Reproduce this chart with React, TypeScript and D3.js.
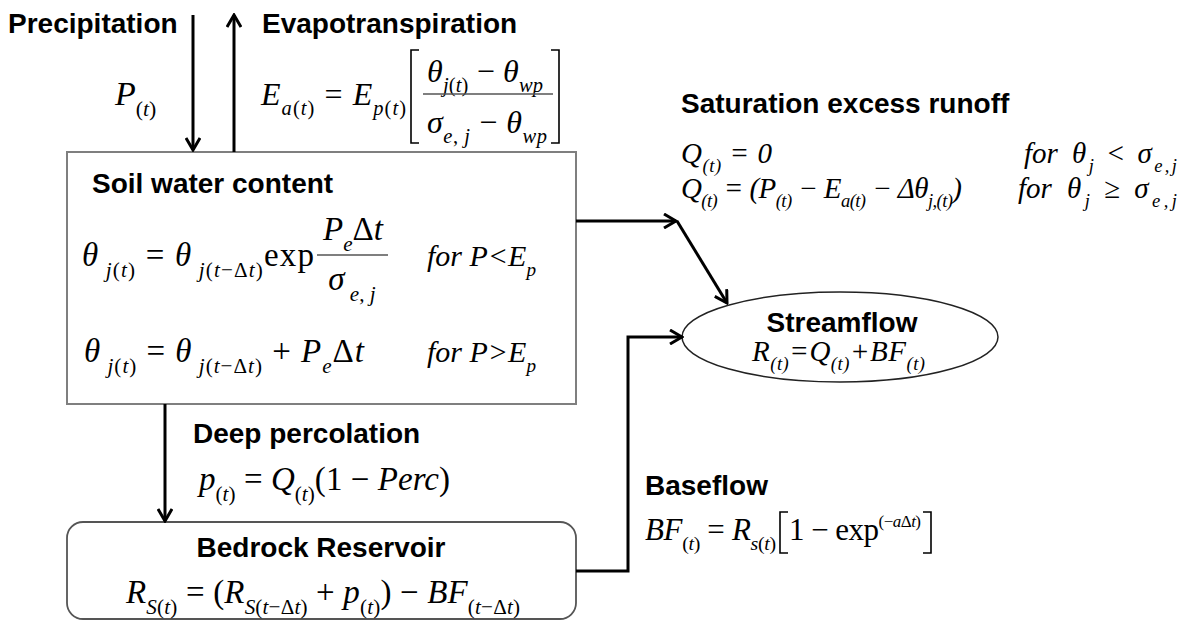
import * as d3 from "d3";

// soil water balance / streamflow diagram

const W = 1188;
const H = 621;

// node titles and flow labels
const nodeTitles = ["Soil water content", "Bedrock Reservoir", "Streamflow"];
const flowTitles = ["Precipitation", "Evapotranspiration", "Saturation excess runoff", "Deep percolation", "Baseflow"];

// formula tokens: [text, kind]  i = italic, r = roman, s = sub italic, sr = sub roman, u / ui = superscript
type Tok = [string, string];
const fPrecip: Tok[] = [["P", "i"], ["(", "sr"], ["t", "s"], [")", "sr"]];
const fEaLeft: Tok[] = [["E", "i"], ["a", "s"], ["(", "sr"], ["t", "s"], [")", "sr"], [" = ", "r"], ["E", "i"], ["p", "s"], ["(", "sr"], ["t", "s"], [")", "sr"]];
const fEaNum: Tok[] = [["θ", "i"], ["j", "s"], ["(", "sr"], ["t", "s"], [")", "sr"], [" − ", "r"], ["θ", "i"], ["wp", "s"]];
const fEaDen: Tok[] = [["σ", "i"], ["e", "s"], [", ", "sr"], ["j", "s"], [" − ", "r"], ["θ", "i"], ["wp", "s"]];
const fSoil1: Tok[] = [["θ", "i"], [" j", "s"], ["(", "sr"], ["t", "s"], [")", "sr"], [" = ", "r"], ["θ", "i"], [" j", "s"], ["(", "sr"], ["t", "s"], ["−Δ", "sr"], ["t", "s"], [")", "sr"], ["exp", "r"]];
const fSoil1Num: Tok[] = [["P", "i"], ["e", "s"], ["Δ", "r"], ["t", "i"]];
const fSoil1Den: Tok[] = [["σ", "i"], [" e", "s"], [", ", "sr"], ["j", "s"]];
const fSoil1Cond: Tok[] = [["for P<E", "i"], ["p", "s"]];
const fSoil2: Tok[] = [["θ", "i"], [" j", "s"], ["(", "sr"], ["t", "s"], [")", "sr"], [" = ", "r"], ["θ", "i"], [" j", "s"], ["(", "sr"], ["t", "s"], ["−Δ", "sr"], ["t", "s"], [")", "sr"], [" + ", "r"], ["P", "i"], ["e", "s"], ["Δ", "r"], ["t", "i"]];
const fSoil2Cond: Tok[] = [["for P>E", "i"], ["p", "s"]];
const fPerc: Tok[] = [["p", "i"], ["(", "sr"], ["t", "s"], [")", "sr"], [" = ", "r"], ["Q", "i"], ["(", "sr"], ["t", "s"], [")", "sr"], ["(1 − ", "r"], ["Perc", "i"], [")", "r"]];
const fBedrock: Tok[] = [["R", "i"], ["S", "s"], ["(", "sr"], ["t", "s"], [")", "sr"], [" = (", "r"], ["R", "i"], ["S", "s"], ["(", "sr"], ["t", "s"], ["−Δ", "sr"], ["t", "s"], [")", "sr"], [" + ", "r"], ["p", "i"], ["(", "sr"], ["t", "s"], [")", "sr"], [") − ", "r"], ["BF", "i"], ["(", "sr"], ["t", "s"], ["−Δ", "sr"], ["t", "s"], [")", "sr"]];
const fRunoff1: Tok[] = [["Q", "i"], ["(t)", "s"], [" = 0", "i"]];
const fRunoff2: Tok[] = [["Q", "i"], ["(t)", "s"], [" = (P", "i"], ["(t)", "s"], [" − E", "i"], ["a(t)", "s"], [" − Δθ", "i"], ["j,(t)", "s"], [")", "i"]];
const fFor: Tok[] = [["for", "i"]];
const fRunoff1Cond: Tok[] = [["θ", "i"], ["j", "s"], [" < σ", "i"], ["e,j", "s"]];
const fRunoff2Cond: Tok[] = [["θ", "i"], ["j", "s"], [" ≥ σ", "i"], ["e,j", "s"]];
const fStream: Tok[] = [["R", "i"], ["(t)", "s"], ["=Q", "i"], ["(t)", "s"], ["+BF", "i"], ["(t)", "s"]];
const fBaseLeft: Tok[] = [["BF", "i"], ["(", "sr"], ["t", "s"], [")", "sr"], [" = ", "r"], ["R", "i"], ["s", "s"], ["(", "sr"], ["t", "s"], [")", "sr"]];
const fBaseIn: Tok[] = [["1 − exp", "r"], ["(−", "u"], ["a", "ui"], ["Δ", "u"], ["t", "ui"], [")", "u"]];

// geometry of the diagram
const layout = {
  soil: { x: 67, y: 152, w: 509, h: 252 },
  bed: { x: 67, y: 522, w: 509, h: 97, r: 16 },
  stream: { cx: 840, cy: 337, rx: 158, ry: 45 },
};

const flows: [number, number][][] = [
  [[193, 15], [193, 150]],
  [[234, 152], [234, 15]],
  [[576, 221], [676, 221]],
  [[677, 221], [727, 303]],
  [[165, 404], [165, 521]],
  [[576, 571], [628, 571], [628, 337], [682, 337]],
];

const SANS = "'Liberation Sans', Arial, sans-serif";
const SERIF = "'Liberation Serif', 'Times New Roman', serif";

function Formula({ x, y, toks, size = 32, anchor = "start", len }: { x: number; y: number; toks: Tok[]; size?: number; anchor?: string; len?: number }) {
  let shift = 0;
  return (
    <text
      x={x}
      y={y}
      fontFamily={SERIF}
      fontSize={size}
      textAnchor={anchor}
      fill="#000"
      style={{ whiteSpace: "pre" }}
      textLength={len}
      lengthAdjust={len ? "spacing" : undefined}
    >
      {toks.map(([t, k], i) => {
        const sub = k === "s" || k === "sr";
        const sup = k === "u" || k === "ui";
        const target = sub ? size * 0.32 : sup ? -size * 0.42 : 0;
        const dy = target - shift;
        shift = target;
        const italic = k === "i" || k === "s" || k === "ui";
        return (
          <tspan key={i} dy={dy} fontSize={sub ? size * 0.64 : sup ? size * 0.55 : size} fontStyle={italic ? "italic" : "normal"}>
            {t}
          </tspan>
        );
      })}
    </text>
  );
}

function Label({ x, y, text, anchor = "start" }: { x: number; y: number; text: string; anchor?: string }) {
  return (
    <text x={x} y={y} fontFamily={SANS} fontWeight="bold" fontSize={28} textAnchor={anchor} fill="#000">
      {text}
    </text>
  );
}

function bracket(x: number, y0: number, y1: number, dir: number) {
  const p = d3.path();
  p.moveTo(x + dir * 8, y0);
  p.lineTo(x, y0);
  p.lineTo(x, y1);
  p.lineTo(x + dir * 8, y1);
  return p.toString();
}

export default function App() {
  const line = d3.line<[number, number]>().x((d) => d[0]).y((d) => d[1]);
  const { soil, bed, stream } = layout;
  return (
    <svg width={W} height={H} viewBox={`0 0 ${W} ${H}`} style={{ position: "absolute", left: 0, top: 0, background: "#fff" }}>
      <defs>
        <marker id="head" viewBox="0 0 16 16" markerWidth={16} markerHeight={16} refX={14} refY={8} orient="auto" markerUnits="userSpaceOnUse">
          <path d="M2,1 L14,8 L2,15" fill="none" stroke="#000" strokeWidth={3} strokeLinejoin="miter" />
        </marker>
      </defs>

      {/* nodes */}
      <rect x={soil.x} y={soil.y} width={soil.w} height={soil.h} fill="none" stroke="#7f7f7f" strokeWidth={2} />
      <rect x={bed.x} y={bed.y} width={bed.w} height={bed.h} rx={bed.r} fill="none" stroke="#555" strokeWidth={1.8} />
      <ellipse cx={stream.cx} cy={stream.cy} rx={stream.rx} ry={stream.ry} fill="none" stroke="#222" strokeWidth={1.5} />

      {/* flows */}
      {flows.map((pts, i) => (
        <path key={i} d={line(pts) as string} fill="none" stroke="#000" strokeWidth={3} markerEnd="url(#head)" />
      ))}

      {/* titles */}
      <Label x={8} y={33} text={flowTitles[0]} />
      <Label x={262} y={33} text={flowTitles[1]} />
      <Label x={681} y={113} text={flowTitles[2]} />
      <Label x={193} y={443} text={flowTitles[3]} />
      <Label x={645} y={495} text={flowTitles[4]} />
      <Label x={92} y={193} text={nodeTitles[0]} />
      <Label x={321} y={557} text={nodeTitles[1]} anchor="middle" />
      <Label x={842} y={332} text={nodeTitles[2]} anchor="middle" />

      {/* precipitation / evapotranspiration */}
      <Formula x={115} y={105} toks={fPrecip} size={34} />
      <Formula x={261} y={105} toks={fEaLeft} size={32} len={145} />
      <path d={bracket(411, 50, 143, 1)} fill="none" stroke="#000" strokeWidth={1.6} />
      <path d={bracket(559, 50, 143, -1)} fill="none" stroke="#000" strokeWidth={1.6} />
      <Formula x={427} y={82} toks={fEaNum} size={32} len={116} />
      <line x1={423} x2={553} y1={94} y2={94} stroke="#555" strokeWidth={1.6} />
      <Formula x={427} y={133} toks={fEaDen} size={32} len={120} />

      {/* soil water content */}
      <Formula x={82} y={266} toks={fSoil1} size={33} len={232} />
      <Formula x={353} y={240} toks={fSoil1Num} size={33} anchor="middle" />
      <line x1={317} x2={388} y1={255} y2={255} stroke="#555" strokeWidth={1.6} />
      <Formula x={352} y={290} toks={fSoil1Den} size={33} anchor="middle" />
      <Formula x={427} y={266} toks={fSoil1Cond} size={30} />
      <Formula x={84} y={362} toks={fSoil2} size={33} len={280} />
      <Formula x={427} y={362} toks={fSoil2Cond} size={30} />

      {/* percolation & bedrock */}
      <Formula x={199} y={490} toks={fPerc} size={33} len={251} />
      <Formula x={126} y={603} toks={fBedrock} size={33} len={394} />

      {/* runoff */}
      <Formula x={681} y={163} toks={fRunoff1} size={29} len={91} />
      <Formula x={1024} y={163} toks={fFor} size={29} />
      <Formula x={1072} y={163} toks={fRunoff1Cond} size={29} len={105} />
      <Formula x={681} y={198} toks={fRunoff2} size={29} len={281} />
      <Formula x={1018} y={198} toks={fFor} size={29} />
      <Formula x={1067} y={198} toks={fRunoff2Cond} size={29} len={110} />

      {/* streamflow */}
      <Formula x={752} y={361} toks={fStream} size={29} len={173} />

      {/* baseflow */}
      <Formula x={645} y={540} toks={fBaseLeft} size={31} len={131} />
      <path d={bracket(780, 512, 553, 1)} fill="none" stroke="#000" strokeWidth={1.6} />
      <Formula x={789} y={540} toks={fBaseIn} size={31} len={132} />
      <path d={bracket(931, 512, 553, -1)} fill="none" stroke="#000" strokeWidth={1.6} />
    </svg>
  );
}
